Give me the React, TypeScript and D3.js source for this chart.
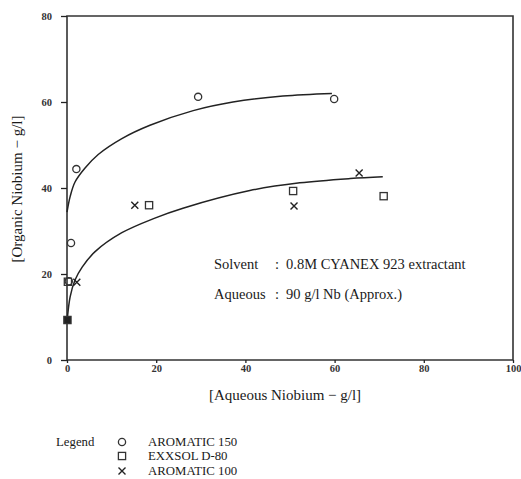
import React, { useEffect, useRef } from 'react';
import * as d3 from 'd3';

// aqueous Nb (g/l) vs organic Nb (g/l)
const aromatic150 = [
  [29.4, 61.2], [59.9, 60.7], [2.1, 44.4], [0.9, 27.2], [0.4, 18.3],
];
const exxsolD80 = [
  [18.4, 36], [50.7, 39.3], [71, 38.1], [0.2, 18.2],
];
const aromatic100 = [
  [15.2, 36], [50.9, 35.8], [65.5, 43.5], [2.2, 18.1],
];
const filledPoint = [[0.1, 9.3]];

// fitted curves
const upperCurve = [
  [0, 34.4], [0.7, 38], [1.8, 41.4], [4, 44.6], [7, 47.8], [12.3, 51.5], [18.6, 54.6],
  [28.3, 58], [37.2, 60], [48.4, 61.4], [59.4, 62],
];
const lowerCurve = [
  [0, 8.8], [0.7, 14.7], [1.8, 18.6], [3.4, 21.6], [6.3, 25.2], [12.3, 29.6],
  [19.7, 33], [26, 35.3], [41, 39.4], [52.2, 41.2], [63.5, 42.2], [70.8, 42.6],
];

const xTicks = [0, 20, 40, 60, 80, 100];
const yTicks = [0, 20, 40, 60, 80];

const font = '"Liberation Serif", "DejaVu Serif", serif';
const margin = { top: 16, right: 8, bottom: 119, left: 67 };
const width = 521;
const height = 479;

const App = () => {
  const xAxisRef = useRef<SVGGElement>(null);
  const yAxisRef = useRef<SVGGElement>(null);

  const x = d3.scaleLinear().domain([0, 100]).range([margin.left, width - margin.right]);
  const y = d3.scaleLinear().domain([0, 80]).range([height - margin.bottom, margin.top]);

  useEffect(() => {
    const xa = d3.select(xAxisRef.current!);
    xa.call(d3.axisBottom(x).tickValues(xTicks).tickSize(3).tickPadding(2));
    const ya = d3.select(yAxisRef.current!);
    ya.call(d3.axisLeft(y).tickValues(yTicks).tickSize(6).tickPadding(9));
    [xa, ya].forEach((a) => {
      a.select('.domain').remove();
      a.selectAll('line').attr('stroke', '#222').attr('stroke-width', 1.3);
      a.selectAll('text')
        .attr('font-family', font)
        .attr('font-size', 10.5)
        .attr('font-weight', 'bold')
        .attr('fill', '#333');
    });
  }, []);

  const line = d3.line<number[]>()
    .x((d) => x(d[0]))
    .y((d) => y(d[1]))
    .curve(d3.curveCatmullRom.alpha(0.5));

  const x0 = x(0), x1 = x(100), y0 = y(0), y1 = y(80);
  const s = 3.6;

  const square = (cx: number, cy: number, key: string, filled = false) => (
    <rect key={key} x={cx - s} y={cy - s} width={2 * s} height={2 * s}
      fill={filled ? '#222' : 'none'} stroke="#333" strokeWidth={1.3} />
  );
  const circle = (cx: number, cy: number, key: string) => (
    <circle key={key} cx={cx} cy={cy} r={3.6} fill="none" stroke="#333" strokeWidth={1.3} />
  );
  const cross = (cx: number, cy: number, key: string) => (
    <path key={key} d={`M${cx - 3.5},${cy - 3.5}L${cx + 3.5},${cy + 3.5}M${cx - 3.5},${cy + 3.5}L${cx + 3.5},${cy - 3.5}`}
      stroke="#222" strokeWidth={1.4} />
  );

  return (
    <svg width={width} height={height} style={{ position: 'absolute', left: 0, top: 0, background: '#fff' }}>
      <rect x={0} y={0} width={width} height={height} fill="#fff" />
      {/* frame */}
      <path d={`M${x0},${y1}H${x1}V${y0}H${x0}Z`} fill="none" stroke="#333" strokeWidth={1.6} />
      <g ref={xAxisRef} transform={`translate(0,${y0})`} />
      <g ref={yAxisRef} transform={`translate(${x0},0)`} />

      <path d={line(upperCurve) || ''} fill="none" stroke="#222" strokeWidth={1.5} />
      <path d={line(lowerCurve) || ''} fill="none" stroke="#222" strokeWidth={1.5} />

      {aromatic150.map((d, i) => circle(x(d[0]), y(d[1]), 'c' + i))}
      {exxsolD80.map((d, i) => square(x(d[0]), y(d[1]), 's' + i))}
      {aromatic100.map((d, i) => cross(x(d[0]), y(d[1]), 'x' + i))}
      {filledPoint.map((d, i) => square(x(d[0]), y(d[1]), 'f' + i, true))}

      <g fontFamily={font} fontSize={14.5} fill="#1a1a1a">
        <text x={214} y={269}>Solvent</text>
        <text x={275} y={269}>:</text>
        <text x={286} y={269}>0.8M CYANEX 923 extractant</text>
        <text x={214} y={299}>Aqueous</text>
        <text x={275} y={299}>:</text>
        <text x={286} y={299}>90 g/l Nb (Approx.)</text>
      </g>

      <text x={285} y={400} textAnchor="middle" fontFamily={font} fontSize={15} fill="#1a1a1a">
        [Aqueous Niobium − g/l]
      </text>
      <text transform={`translate(22,${(y0 + y1) / 2 + 1}) rotate(-90)`} textAnchor="middle"
        fontFamily={font} fontSize={15} fill="#1a1a1a">
        [Organic Niobium − g/l]
      </text>

      <g fontFamily={font} fontSize={12.8} fill="#1a1a1a">
        <text x={56} y={446}>Legend</text>
        {circle(122, 442, 'lc')}
        <text x={148} y={446}>AROMATIC 150</text>
        {square(122, 456, 'ls')}
        <text x={148} y={460}>EXXSOL D-80</text>
        {cross(122, 471, 'lx')}
        <text x={148} y={475}>AROMATIC 100</text>
      </g>
    </svg>
  );
};

export default App;
